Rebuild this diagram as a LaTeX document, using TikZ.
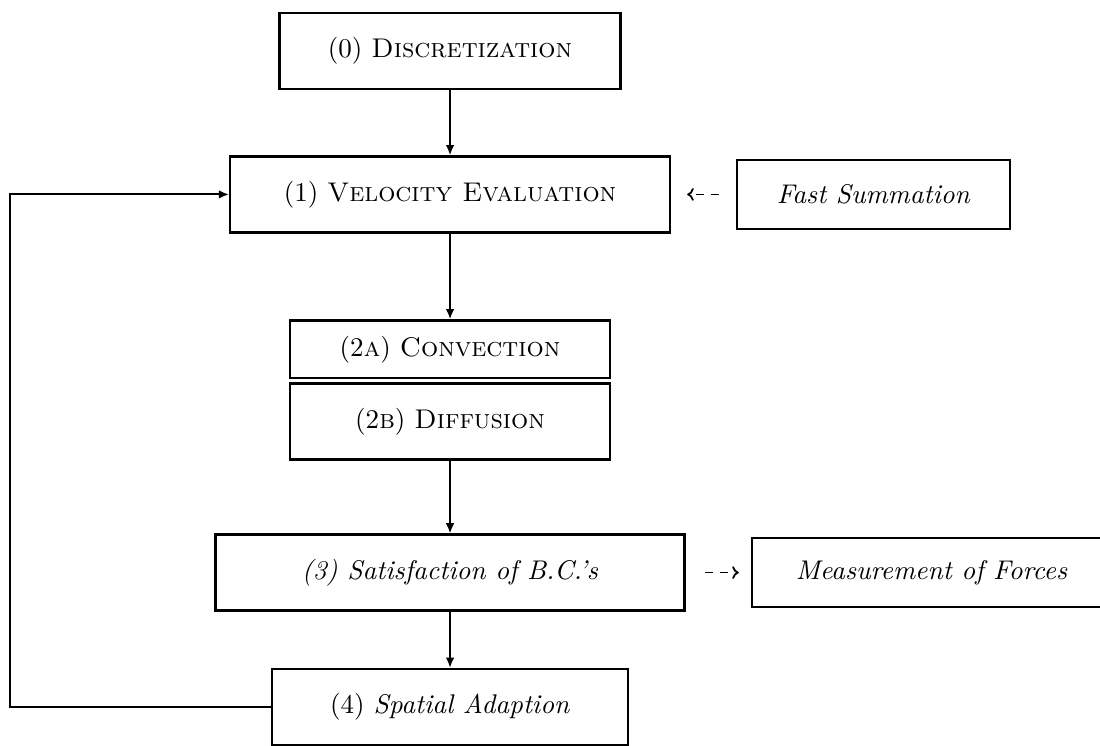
\documentclass[tikz,border=0pt]{standalone}
\usepackage{tikz}
\usetikzlibrary{positioning,arrows.meta,calc}
\tikzset{
  blk/.style  ={draw, line width=0.9pt, align=center, inner sep=3pt, minimum height=29.8pt,
                font=\fontsize{10.6pt}{13pt}\selectfont},
  sblk/.style ={blk, minimum height=27pt},
  ar/.style   ={-{Latex[length=4pt,width=3.4pt]}, line width=0.75pt},
  dar/.style  ={-{To[length=2.6pt,width=5pt]}, dashed, line width=0.7pt},
}
\begin{document}
\begin{tikzpicture}[node distance=25.5pt]
\node[blk,minimum width=133.7pt] (d0) {(0) \textsc{Discretization}};
\node[blk,below=25.5pt of d0,minimum width=172.5pt] (v1) {(1) \textsc{Velocity Evaluation}};
\node[sblk,right=of v1,minimum width=107pt] (fs) {\textit{Fast Summation}};
\node[blk,below=33.6pt of v1,minimum width=125.5pt,minimum height=22.7pt] (c2a) {(2\textsc{a}) \textsc{Convection}};
\node[blk,below=1.2pt of c2a,minimum width=125.5pt] (d2b) {(2\textsc{b}) \textsc{Diffusion}};
\node[blk,below=28.5pt of d2b,minimum width=184pt] (bc3) {\textit{(3) Satisfaction of B.C.'s}};
\node[sblk,right=of bc3,minimum width=141pt] (mf) {\textit{Measurement of Forces}};
\node[blk,below=22pt of bc3,minimum width=139.6pt] (sa4) {(4) \textit{Spatial Adaption}};
\pgfresetboundingbox
\useasboundingbox ($(d0.north -| v1.west)+(-89.8pt,4.7pt)$) rectangle ++(431.4pt,-292.5pt);
\draw[ar] (d0)--(v1); \draw[ar] (v1)--(c2a); \draw[ar] (d2b)--(bc3); \draw[ar] (bc3)--(sa4);
\draw[dar,shorten <=6.7pt,shorten >=6.3pt] (fs.west)--(v1.east);
\draw[dar,shorten <=7.5pt,shorten >=4.7pt] (bc3.east)--(mf.west);
\draw[ar] (sa4.west) -- ++(-102.4pt,0) |- (v1.west);
\end{tikzpicture}
\end{document}
